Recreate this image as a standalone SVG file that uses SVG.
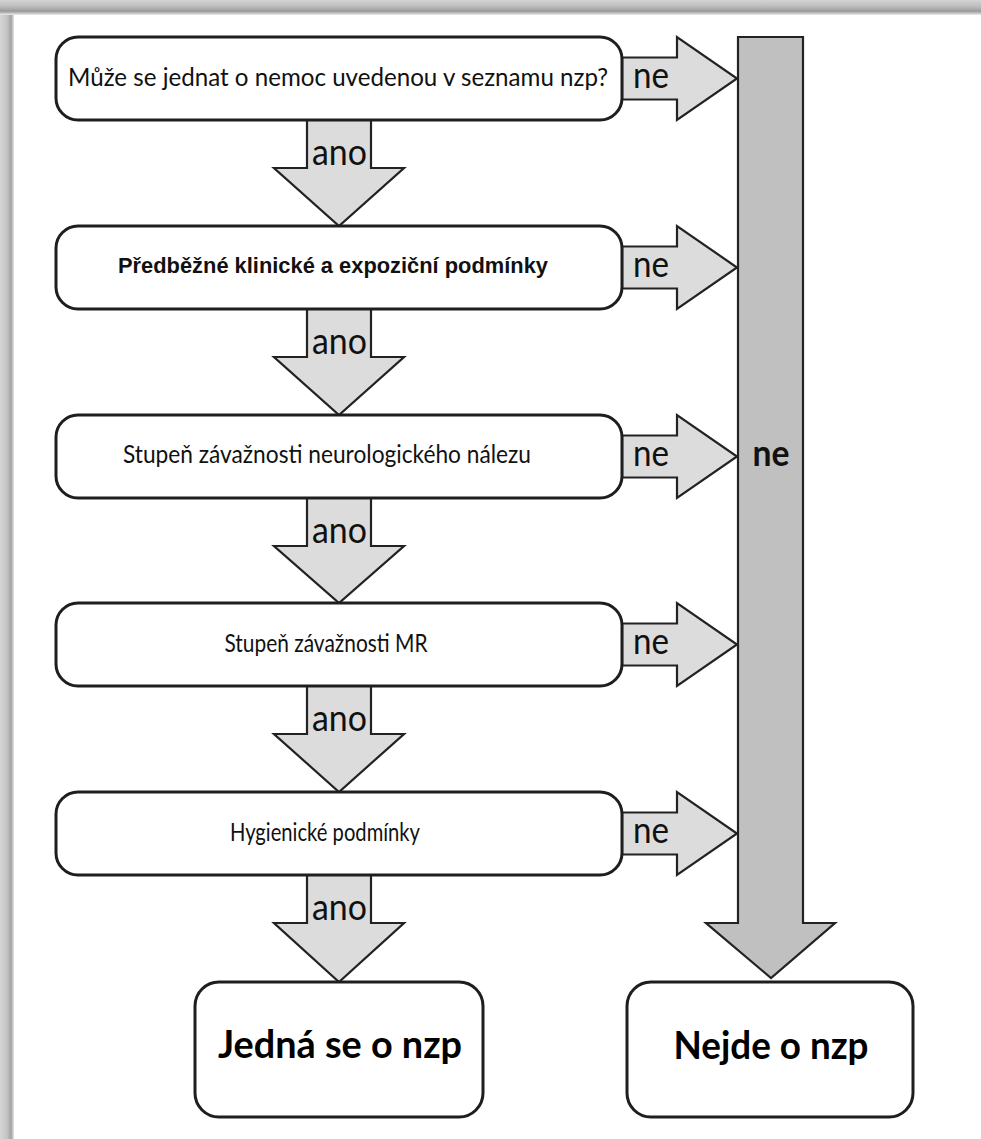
<svg xmlns="http://www.w3.org/2000/svg" width="981" height="1139" viewBox="0 0 981 1139">
<defs>
<linearGradient id="gl" x1="0" y1="0" x2="1" y2="0">
<stop offset="0" stop-color="#d6d6d6"/><stop offset="0.5" stop-color="#c4c4c4"/><stop offset="0.8" stop-color="#a2a2a2"/><stop offset="1" stop-color="#e8e8e8"/>
</linearGradient>
<linearGradient id="gt" x1="0" y1="0" x2="0" y2="1">
<stop offset="0" stop-color="#d4d4d4"/><stop offset="0.45" stop-color="#bcbcbc"/><stop offset="0.75" stop-color="#9a9a9a"/><stop offset="1" stop-color="#ededed"/>
</linearGradient>
<style>
.box{fill:#fff;stroke:#1e1e1e;stroke-width:3}
.sa{fill:#dcdcdc;stroke:#222;stroke-width:2.2;stroke-linejoin:miter}
.bar{fill:#c0c0c0;stroke:#222;stroke-width:2.2}
.t{font-family:Lato,"Open Sans",sans-serif;font-size:25px;fill:#111;text-anchor:middle}
.tb{font-family:"Liberation Sans",Arial,sans-serif;font-weight:bold;font-size:22px;fill:#111;text-anchor:middle}
.lab{font-family:Lato,"Open Sans",sans-serif;font-size:36px;fill:#111;text-anchor:middle}
.big{font-family:Lato,"Open Sans",sans-serif;font-weight:bold;font-size:39px;fill:#000;text-anchor:middle}
</style>
</defs>
<rect x="0" y="0" width="981" height="1139" fill="#fff"/>
<rect x="0" y="0" width="14" height="1139" fill="url(#gl)"/>
<rect x="0" y="0" width="981" height="15" fill="url(#gt)"/>

<g id="connectors">
<polygon class="sa" points="307,120 371,120 371,168 404,168 339,226 274,168 307,168"/>
<polygon class="sa" points="307,309 371,309 371,357 404,357 339,415 274,357 307,357"/>
<polygon class="sa" points="307,498 371,498 371,546 404,546 339,603 274,546 307,546"/>
<polygon class="sa" points="307,686 371,686 371,734 404,734 339,792 274,734 307,734"/>
<polygon class="sa" points="307,875 371,875 371,923 404,923 339,982 274,923 307,923"/>
<text class="lab" x="339.5" y="165" textLength="55" lengthAdjust="spacingAndGlyphs">ano</text>
<text class="lab" x="339.5" y="354" textLength="55" lengthAdjust="spacingAndGlyphs">ano</text>
<text class="lab" x="339.5" y="543" textLength="55" lengthAdjust="spacingAndGlyphs">ano</text>
<text class="lab" x="339.5" y="731" textLength="55" lengthAdjust="spacingAndGlyphs">ano</text>
<text class="lab" x="339.5" y="920" textLength="55" lengthAdjust="spacingAndGlyphs">ano</text>

<polygon class="sa" points="622,57.5 677,57.5 677,37 737,78.5 677,120 677,99.5 622,99.5"/>
<polygon class="sa" points="622,246.5 677,246.5 677,226 737,267.5 677,309 677,288.5 622,288.5"/>
<polygon class="sa" points="622,435.5 677,435.5 677,415 737,456.5 677,498 677,477.5 622,477.5"/>
<polygon class="sa" points="622,623.5 677,623.5 677,603 737,644.5 677,686 677,665.5 622,665.5"/>
<polygon class="sa" points="622,812.5 677,812.5 677,792 737,833.5 677,875 677,854.5 622,854.5"/>
<text class="lab" x="651" y="88" textLength="36" lengthAdjust="spacingAndGlyphs">ne</text>
<text class="lab" x="651" y="277" textLength="36" lengthAdjust="spacingAndGlyphs">ne</text>
<text class="lab" x="651" y="466" textLength="36" lengthAdjust="spacingAndGlyphs">ne</text>
<text class="lab" x="651" y="654" textLength="36" lengthAdjust="spacingAndGlyphs">ne</text>
<text class="lab" x="651" y="843" textLength="36" lengthAdjust="spacingAndGlyphs">ne</text>

<polygon class="bar" points="738,37 803,37 803,923 835,923 771,978 706,923 738,923"/>
<text class="lab" x="771" y="466" font-weight="bold" textLength="37" lengthAdjust="spacingAndGlyphs">ne</text>
</g>

<g id="n1"><rect class="box" x="56" y="37" width="566" height="83" rx="22"/>
<text class="t" x="338" y="86" textLength="540" lengthAdjust="spacingAndGlyphs">Může se jednat o nemoc uvedenou v seznamu nzp?</text></g>
<g id="n2"><rect class="box" x="56" y="226" width="566" height="83" rx="22"/>
<text class="tb" x="333" y="273" textLength="430" lengthAdjust="spacingAndGlyphs">Předběžné klinické a expoziční podmínky</text></g>
<g id="n3"><rect class="box" x="56" y="415" width="566" height="83" rx="22"/>
<text class="t" x="327" y="463" textLength="408" lengthAdjust="spacingAndGlyphs">Stupeň závažnosti neurologického nálezu</text></g>
<g id="n4"><rect class="box" x="56" y="603" width="566" height="83" rx="22"/>
<text class="t" x="326" y="652" textLength="203" lengthAdjust="spacingAndGlyphs">Stupeň závažnosti MR</text></g>
<g id="n5"><rect class="box" x="56" y="792" width="566" height="83" rx="22"/>
<text class="t" x="325" y="841" textLength="190" lengthAdjust="spacingAndGlyphs">Hygienické podmínky</text></g>
<g id="yes"><rect class="box" x="195" y="982" width="288" height="135" rx="24"/>
<text class="big" x="340" y="1058" textLength="244" lengthAdjust="spacingAndGlyphs">Jedná se o nzp</text></g>
<g id="no"><rect class="box" x="627" y="982" width="286" height="135" rx="24"/>
<text class="big" x="771" y="1059" textLength="195" lengthAdjust="spacingAndGlyphs">Nejde o nzp</text></g>
</svg>
